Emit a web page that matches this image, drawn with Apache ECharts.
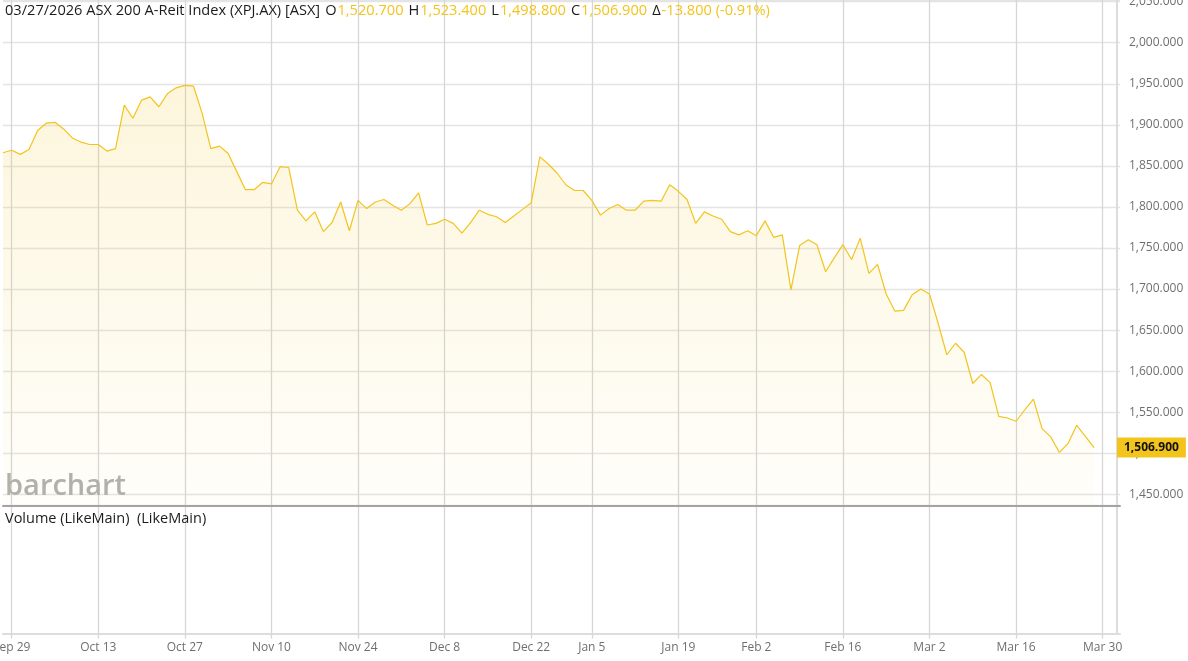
<!DOCTYPE html>
<html><head><meta charset="utf-8">
<script src="https://cdn.jsdelivr.net/npm/echarts@6/dist/echarts.min.js"></script>
<style>html,body{margin:0;padding:0;background:#fff;overflow:hidden}#c{width:1188px;height:661px}</style>
</head><body><div id="c"></div>
<script>
// Trading days (ASX), last three are future dates on the axis
const dates = [
  'Sep 26','Sep 29','Sep 30','Oct 1','Oct 2','Oct 3',
  'Oct 6','Oct 7','Oct 8','Oct 9','Oct 10',
  'Oct 13','Oct 14','Oct 15','Oct 16','Oct 17',
  'Oct 20','Oct 21','Oct 22','Oct 23','Oct 24',
  'Oct 27','Oct 28','Oct 29','Oct 30','Oct 31',
  'Nov 3','Nov 4','Nov 5','Nov 6','Nov 7',
  'Nov 10','Nov 11','Nov 12','Nov 13','Nov 14',
  'Nov 17','Nov 18','Nov 19','Nov 20','Nov 21',
  'Nov 24','Nov 25','Nov 26','Nov 27','Nov 28',
  'Dec 1','Dec 2','Dec 3','Dec 4','Dec 5',
  'Dec 8','Dec 9','Dec 10','Dec 11','Dec 12',
  'Dec 15','Dec 16','Dec 17','Dec 18','Dec 19',
  'Dec 22','Dec 23','Dec 24','Dec 29','Dec 30','Dec 31','Jan 2',
  'Jan 5','Jan 6','Jan 7','Jan 8','Jan 9',
  'Jan 12','Jan 13','Jan 14','Jan 15','Jan 16',
  'Jan 19','Jan 20','Jan 21','Jan 22','Jan 23',
  'Jan 27','Jan 28','Jan 29','Jan 30',
  'Feb 2','Feb 3','Feb 4','Feb 5','Feb 6',
  'Feb 9','Feb 10','Feb 11','Feb 12','Feb 13',
  'Feb 16','Feb 17','Feb 18','Feb 19','Feb 20',
  'Feb 23','Feb 24','Feb 25','Feb 26','Feb 27',
  'Mar 2','Mar 3','Mar 4','Mar 5','Mar 6',
  'Mar 9','Mar 10','Mar 11','Mar 12','Mar 13',
  'Mar 16','Mar 17','Mar 18','Mar 19','Mar 20',
  'Mar 23','Mar 24','Mar 25','Mar 26','Mar 27',
  'Mar 30','Mar 31','Apr 1'
];
// Daily closes (Sep 26 .. Mar 27)
const closes = [
  1866,1869,1864,1870,1893,1902,
  1903,1895,1884,1879,1876,
  1876,1868,1871,1924,1908,
  1930,1934,1922,1938,1945,
  1948,1947,1914,1871,1874,
  1865,1843,1821,1821,1830,
  1828,1849,1848,1796,1783,
  1794,1770,1781,1806,1771,
  1808,1798,1806,1809,1802,
  1796,1804,1817,1778,1780,
  1785,1780,1768,1781,1796,
  1791,1788,1781,1789,1797,
  1805,1861,1852,1841,1827,1820,1820,
  1808,1790,1798,1803,1796,
  1796,1807,1808,1807,1827,
  1819,1809,1780,1794,1789,
  1785,1770,1766,1771,
  1765,1783,1763,1766,1699,
  1753,1760,1754,1721,1738,
  1754,1736,1762,1719,1730,
  1694,1673,1674,1693,1700,
  1694,1658,1620,1634,1623,
  1585,1596,1586,1545,1543,
  1539,1553,1566,1530,1520,
  1501,1512,1534,1520.7,1506.9
];
const tickLabels = ['Sep 29','Oct 13','Oct 27','Nov 10','Nov 24','Dec 8','Dec 22','Jan 5','Jan 19','Feb 2','Feb 16','Mar 2','Mar 16','Mar 30'];
const quoteDate = '03/27/2026';
const symbolName = 'ASX 200 A-Reit Index (XPJ.AX) [ASX]';
const ohlc = [1520.7, 1523.4, 1498.8, 1506.9]; // O H L C
const change = [-13.8, -0.91];                 // abs, pct
const priceRange = [1436.4, 2052];

const FONT = '"Open Sans", "Noto Sans", sans-serif';
const YEL = '#f3c41c';
const fmt = v => v.toLocaleString('en-US', {minimumFractionDigits: 3, maximumFractionDigits: 3});
const tickSet = new Set(tickLabels);
const pick = (i, v) => tickSet.has(v);

const chart = echarts.init(document.getElementById('c'), null, {renderer: 'canvas'});
const last = closes[closes.length - 1];

const header =
  `{k|${quoteDate} ${symbolName}}{g|O}{v|${fmt(ohlc[0])}}{g|H}{v|${fmt(ohlc[1])}}` +
  `{g|L}{v|${fmt(ohlc[2])}}{g|C}{v|${fmt(ohlc[3])}}{g|Δ}{v|${fmt(change[0])} (${change[1].toFixed(2)}%)}`;

const HF = 14.6;
const kStyle = {fontFamily: FONT, fontSize: HF, color: '#1c1c1c', fontWeight: 'normal'};
chart.setOption({
  animation: false,
  backgroundColor: '#ffffff',
  textStyle: {fontFamily: FONT},
  title: [
    {left: 5, top: 3, padding: 0, text: header,
     textStyle: {fontWeight: 'normal', rich: {
       k: kStyle,
       g: Object.assign({}, kStyle, {padding: [0, 1, 0, 5]}),
       v: {fontFamily: FONT, fontSize: HF, color: YEL, fontWeight: 'normal'}
     }}},
    {left: 5, top: 511, padding: 0, text: 'Volume (LikeMain)  (LikeMain)',
     textStyle: {fontFamily: FONT, fontSize: 14.5, color: '#1c1c1c', fontWeight: 'normal'}}
  ],
  graphic: [{
    type: 'text', left: 5, top: 472, z: 1, silent: true,
    style: {text: 'barchart', font: '600 29px "Open Sans"', fill: '#b0b0b0'}
  }],
  grid: [
    {left: 3, right: 68, top: 0, height: 505.5, outerBoundsMode: 'none', containLabel: false},
    {left: 3, right: 68, top: 506.5, height: 127, outerBoundsMode: 'none', containLabel: false}
  ],
  xAxis: [
    {type: 'category', gridIndex: 0, data: dates, boundaryGap: false,
     axisLine: {show: true, onZero: false, lineStyle: {color: '#a3a3a3', width: 2}},
     axisTick: {show: false}, axisLabel: {show: false},
     splitLine: {show: true, interval: pick, lineStyle: {color: '#d6d6d6', width: 1.3}}},
    {type: 'category', gridIndex: 1, data: dates, boundaryGap: false,
     axisLine: {show: true, onZero: false, lineStyle: {color: '#dddddd', width: 2}},
     axisTick: {show: true, interval: pick, length: 5, lineStyle: {color: '#d6d6d6', width: 1.3}},
     axisLabel: {show: true, interval: pick, margin: 8, fontFamily: FONT, fontSize: 12, color: '#6f6f6f', hideOverlap: false},
     splitLine: {show: true, interval: pick, lineStyle: {color: '#d6d6d6', width: 1.3}}}
  ],
  yAxis: [
    {type: 'value', gridIndex: 0, position: 'right', offset: -3,
     min: priceRange[0], max: priceRange[1], splitNumber: 12, minInterval: 50, maxInterval: 50,
     axisLine: {show: true, lineStyle: {color: '#dcdcdc', width: 2}},
     axisTick: {show: false},
     axisLabel: {margin: 12, showMinLabel: false, showMaxLabel: false, fontFamily: FONT, fontSize: 12, color: '#6f6f6f', formatter: fmt},
     splitLine: {show: true, lineStyle: {color: '#e4e4e4', width: 1.3}}},
    {type: 'value', gridIndex: 0, position: 'right', offset: -3, z: 5,
     min: priceRange[0], max: priceRange[1],
     axisLine: {show: false}, axisTick: {show: false}, splitLine: {show: false},
     axisLabel: {customValues: [last], margin: 0, formatter: fmt, fontFamily: FONT, fontSize: 12,
       fontWeight: 'bold', color: '#111111', backgroundColor: YEL, padding: [4, 7, 4, 7], lineHeight: 12}},
    {type: 'value', gridIndex: 1, position: 'right', offset: -3,
     axisLine: {show: true, lineStyle: {color: '#dcdcdc', width: 2}},
     axisTick: {show: false}, axisLabel: {show: false}, splitLine: {show: false}}
  ],
  series: [{
    type: 'line', xAxisIndex: 0, yAxisIndex: 0, data: closes,
    showSymbol: false, symbol: 'none', smooth: false,
    lineStyle: {color: YEL, width: 1.2},
    areaStyle: {origin: 'start', color: new echarts.graphic.LinearGradient(0, 0, 0, 1, [
      {offset: 0, color: 'rgba(243,196,28,0.22)'},
      {offset: 1, color: 'rgba(243,196,28,0.03)'}
    ])}
  }]
});
</script></body></html>
